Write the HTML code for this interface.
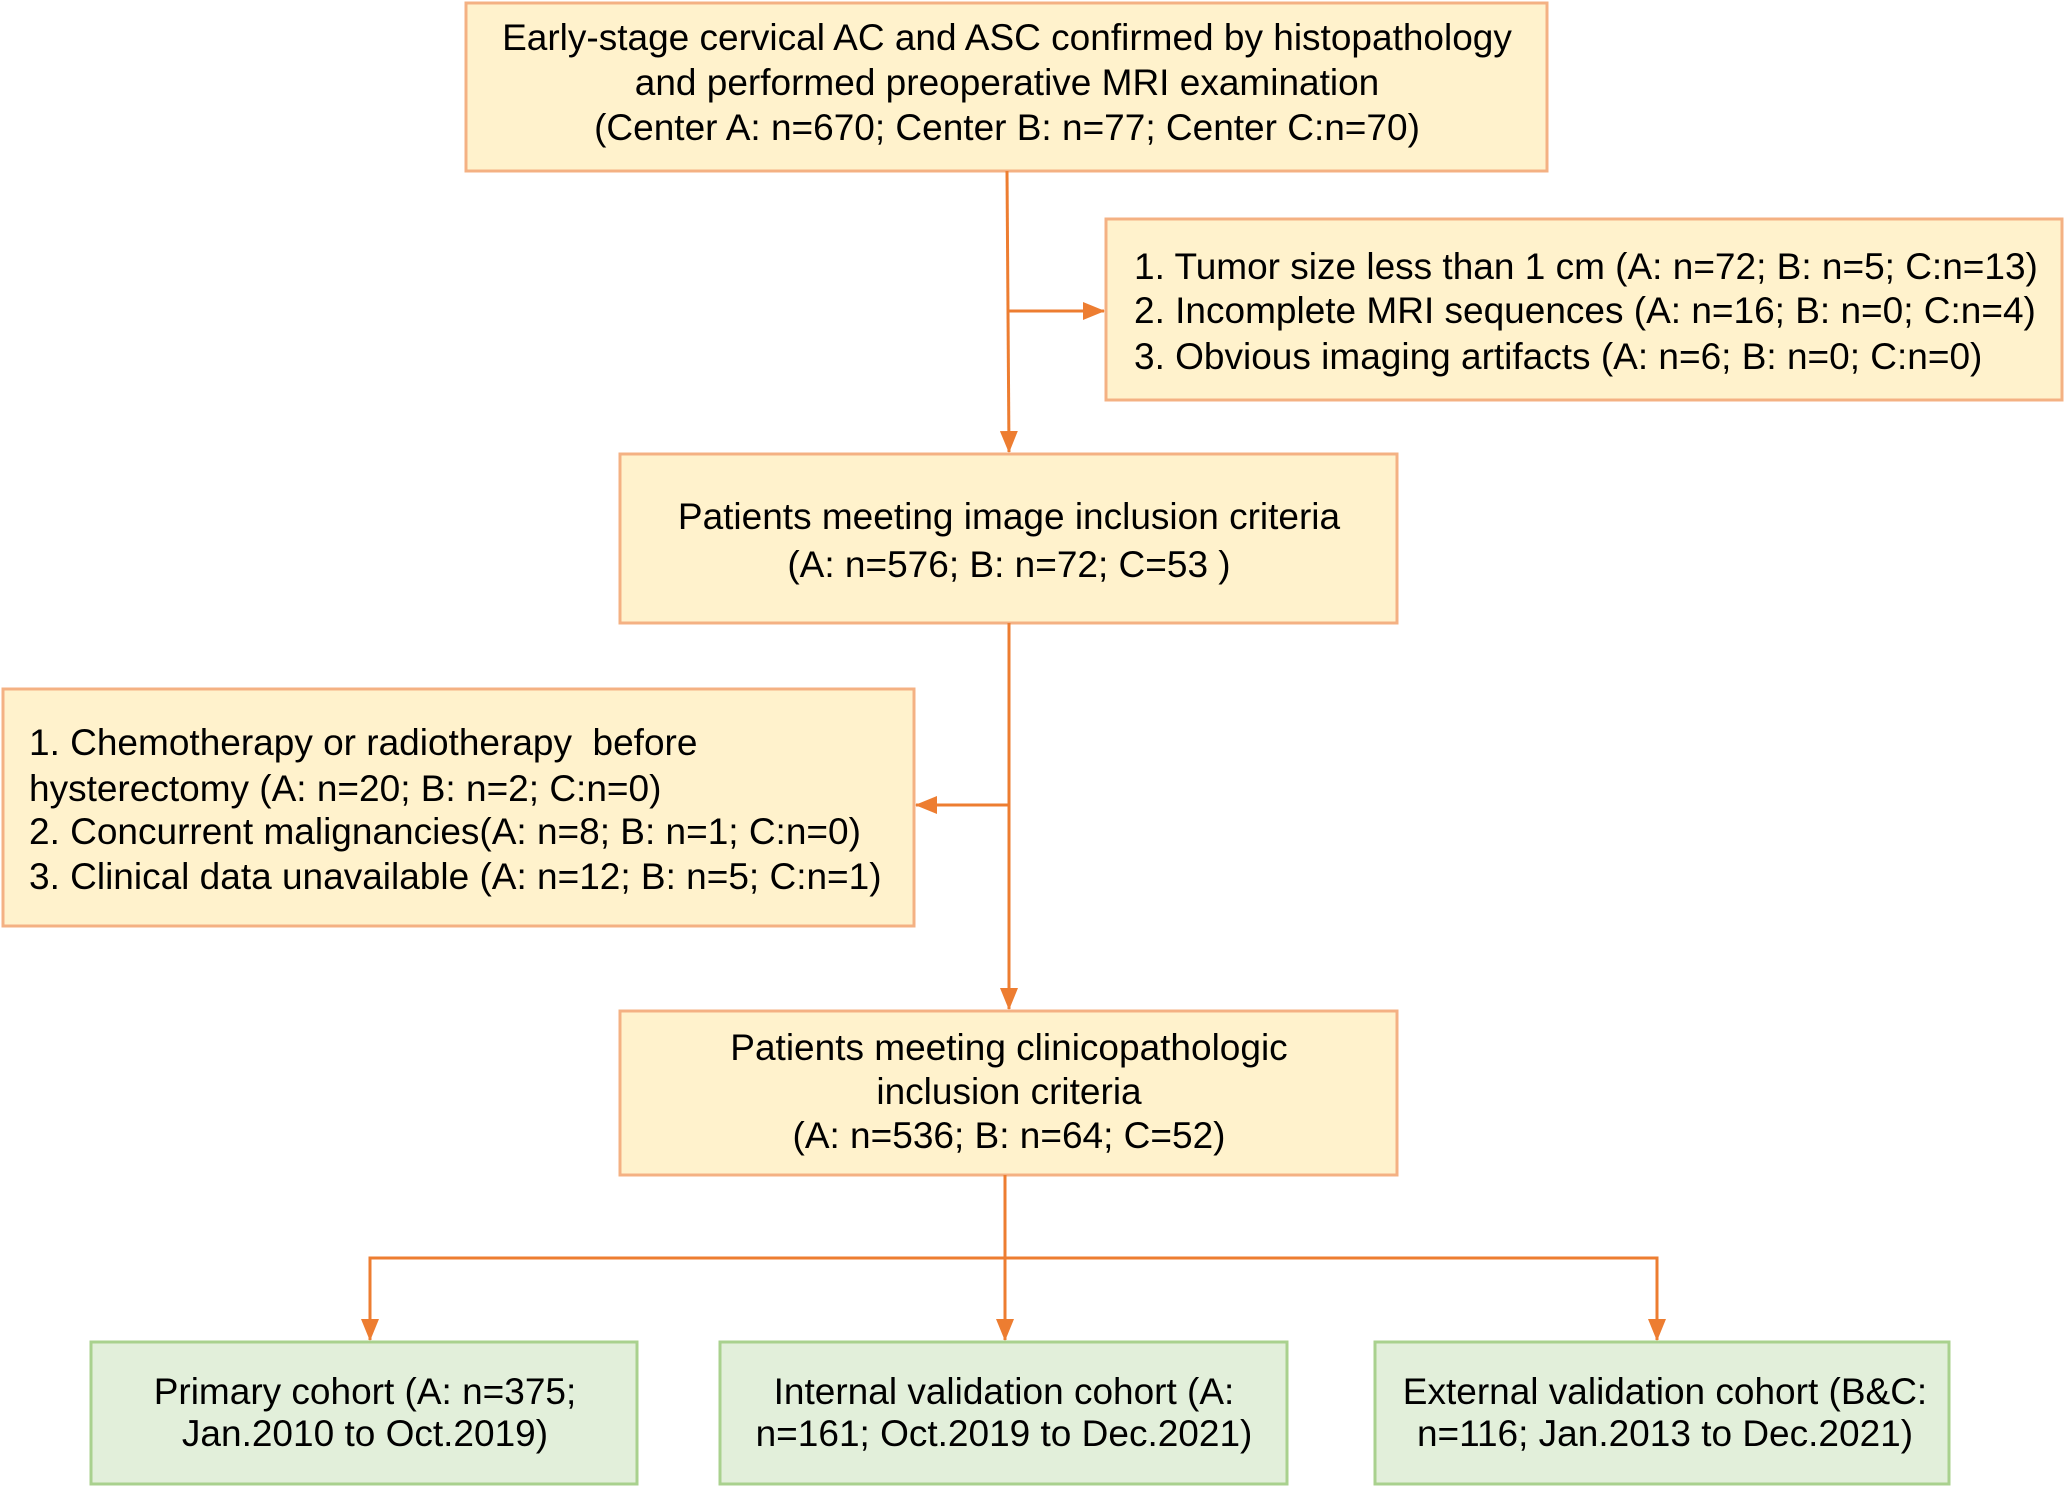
<!DOCTYPE html>
<html><head><meta charset="utf-8"><style>html,body{margin:0;padding:0;background:#fff}svg{display:block}text{font-family:"Liberation Sans",Arial,sans-serif;font-size:37px;fill:#000}</style></head>
<body>
<svg width="2065" height="1487" viewBox="0 0 2065 1487" xmlns="http://www.w3.org/2000/svg">
<defs>
<marker id="b" markerWidth="22" markerHeight="18" refX="21" refY="9" orient="auto" markerUnits="userSpaceOnUse"><path d="M0,0 L22,9 L0,18 Z" fill="#ed7d31"/></marker></defs>
<g fill="#fff2cc" stroke="#f4b183" stroke-width="3">
<rect x="466" y="3" width="1081" height="168"/>
<rect x="1106" y="219" width="956" height="181"/>
<rect x="620" y="454" width="777" height="169"/>
<rect x="3" y="689" width="911" height="237"/>
<rect x="620" y="1011" width="777" height="164"/>
</g>
<g fill="#e2efda" stroke="#a9d18e" stroke-width="3">
<rect x="91" y="1342" width="546" height="142"/>
<rect x="720" y="1342" width="567" height="142"/>
<rect x="1375" y="1342" width="574" height="142"/>
</g>
<g stroke="#ed7d31" stroke-width="3" fill="none">
<line x1="1007" y1="171" x2="1009" y2="452" marker-end="url(#b)"/>
<line x1="1008" y1="311" x2="1104" y2="311" marker-end="url(#b)"/>
<line x1="1009" y1="623" x2="1009" y2="1009" marker-end="url(#b)"/>
<line x1="1009" y1="805" x2="916" y2="805" marker-end="url(#b)"/>
<line x1="1005" y1="1175" x2="1005" y2="1340" marker-end="url(#b)"/>
<polyline points="370,1340 370,1258 1657,1258 1657,1340"/>
<line x1="370" y1="1300" x2="370" y2="1340" marker-end="url(#b)"/>
<line x1="1657" y1="1300" x2="1657" y2="1340" marker-end="url(#b)"/>
</g>
<g text-anchor="middle" xml:space="preserve">
<text x="1007" y="50">Early-stage cervical AC and ASC confirmed by histopathology</text>
<text x="1007" y="95">and performed preoperative MRI examination</text>
<text x="1007" y="140">(Center A: n=670; Center B: n=77; Center C:n=70)</text>
<text x="1009" y="529">Patients meeting image inclusion criteria</text>
<text x="1009" y="577">(A: n=576; B: n=72; C=53 )</text>
<text x="1009" y="1060">Patients meeting clinicopathologic</text>
<text x="1009" y="1104">inclusion criteria</text>
<text x="1009" y="1148">(A: n=536; B: n=64; C=52)</text>
<text x="365" y="1404">Primary cohort (A: n=375;</text>
<text x="365" y="1446">Jan.2010 to Oct.2019)</text>
<text x="1004" y="1404">Internal validation cohort  (A:</text>
<text x="1004" y="1446">n=161; Oct.2019 to Dec.2021)</text>
<text x="1665" y="1404">External validation cohort  (B&amp;C:</text>
<text x="1665" y="1446">n=116; Jan.2013 to Dec.2021)</text>
</g>
<text x="1134" y="279">1. Tumor size less than 1 cm (A: n=72; B: n=5; C:n=13)</text>
<text x="1134" y="323">2. Incomplete MRI sequences (A: n=16; B: n=0; C:n=4)</text>
<text x="1134" y="369">3. Obvious imaging artifacts (A: n=6; B: n=0; C:n=0)</text>
<text x="29" y="755" xml:space="preserve">1. Chemotherapy or radiotherapy  before</text>
<text x="29" y="801">hysterectomy (A: n=20; B: n=2; C:n=0)</text>
<text x="29" y="844">2. Concurrent malignancies(A: n=8; B: n=1; C:n=0)</text>
<text x="29" y="889">3. Clinical data unavailable (A: n=12; B: n=5; C:n=1)</text>
</svg>
</body></html>
